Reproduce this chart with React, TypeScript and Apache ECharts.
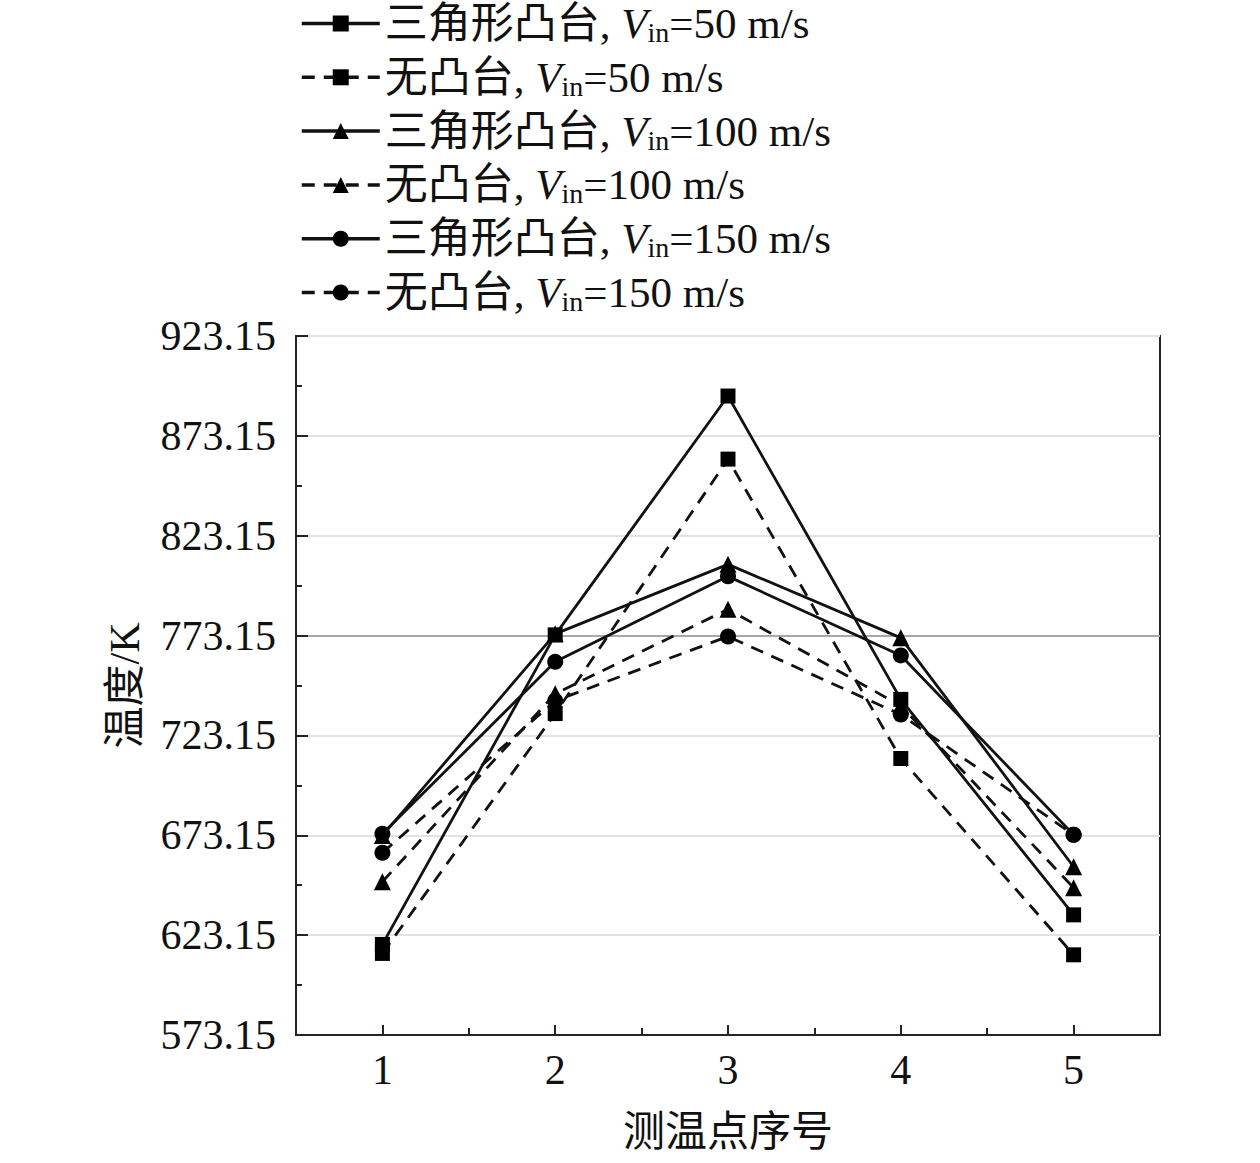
import React, { useEffect, useRef } from "react";
import * as echarts from "echarts";

const xCategories = ["1", "2", "3", "4", "5"];
const yTicks = [573.15, 623.15, 673.15, 723.15, 773.15, 823.15, 873.15, 923.15];

const seriesNames = [
  "三角形凸台, V_in=50 m/s",
  "无凸台, V_in=50 m/s",
  "三角形凸台, V_in=100 m/s",
  "无凸台, V_in=100 m/s",
  "三角形凸台, V_in=150 m/s",
  "无凸台, V_in=150 m/s",
];

const tri50 = [618.5, 773.5, 893.1, 741.2, 633.3];
const no50 = [614.0, 734.1, 861.5, 711.6, 613.3];
const tri100 = [673.0, 774.0, 808.8, 772.0, 657.4];
const no100 = [649.9, 744.0, 786.3, 738.0, 646.9];
const tri150 = [673.9, 760.0, 802.8, 763.2, 673.4];
const no150 = [664.4, 740.5, 772.7, 733.6, 673.4];

const seriesData = [tri50, no50, tri100, no100, tri150, no150];
const symbols = ["rect", "rect", "triangle", "triangle", "circle", "circle"];
const symbolSizes = [15, 15, 17, 17, 16, 16];
const dashed = [false, true, false, true, false, true];

const SERIF = "'Times New Roman', 'Liberation Serif', 'DejaVu Serif', 'Noto Sans CJK SC', serif";
const INK = "#111111";
const FRAME = "#2a2222";

export default function App() {
  const ref = useRef<HTMLDivElement>(null);

  useEffect(() => {
    if (!ref.current) return;
    const chart = echarts.init(ref.current, undefined, { renderer: "svg" });

    const splitColors = yTicks.map((v) => (Math.abs(v - 773.15) < 0.01 ? "#a8a8a8" : "#e2e2e2"));

    const option: any = {
      animation: false,
      backgroundColor: "#ffffff",
      textStyle: { fontFamily: SERIF, color: INK },
      legend: {
        orient: "vertical",
        left: 295,
        top: -3,
        itemWidth: 78,
        itemHeight: 20,
        itemGap: 9.3,
        data: seriesNames,
        lineStyle: { width: 3.5 },
        formatter: (name: string) => {
          const parts = name.split("V_in");
          return `{a|${parts[0]}}{v|V}{s|in}{a|${parts[1]}}`;
        },
        textStyle: {
          fontFamily: SERIF,
          color: INK,
          fontSize: 43,
          rich: {
            a: { fontFamily: SERIF, fontSize: 43, color: INK, lineHeight: 46 },
            v: { fontFamily: SERIF, fontSize: 43, fontStyle: "italic", color: INK, lineHeight: 46 },
            s: { fontFamily: SERIF, fontSize: 28, color: INK, lineHeight: 28, verticalAlign: "bottom" },
          },
        },
      },
      grid: {
        left: 296,
        right: 100,
        top: 336,
        bottom: 128,
        show: true,
        borderColor: FRAME,
        borderWidth: 2,
        backgroundColor: "transparent",
      },
      xAxis: [
        {
          type: "category",
          data: xCategories,
          boundaryGap: true,
          name: "测温点序号",
          nameLocation: "middle",
          nameGap: 76,
          nameTextStyle: { fontFamily: SERIF, fontSize: 42, color: INK },
          axisLine: { show: true, lineStyle: { color: FRAME, width: 2 } },
          axisTick: { show: true, inside: true, alignWithLabel: true, length: 10, lineStyle: { color: FRAME, width: 2 } },
          axisLabel: { fontFamily: SERIF, fontSize: 42, color: INK, margin: 14 },
          splitLine: { show: false },
        },
        {
          type: "category",
          data: xCategories,
          boundaryGap: true,
          position: "bottom",
          axisLine: { show: false },
          axisTick: { show: true, inside: true, alignWithLabel: false, length: 7, lineStyle: { color: FRAME, width: 2 } },
          axisLabel: { show: false },
          splitLine: { show: false },
        },
      ],
      yAxis: {
        type: "value",
        min: yTicks[0],
        max: yTicks[yTicks.length - 1],
        interval: 50,
        name: "温度/K",
        nameLocation: "middle",
        nameGap: 150,
        nameTextStyle: { fontFamily: SERIF, fontSize: 42, color: INK },
        axisLine: { show: true, lineStyle: { color: FRAME, width: 2 } },
        axisTick: { show: true, inside: true, length: 12, lineStyle: { color: FRAME, width: 2 } },
        minorTick: { show: true, splitNumber: 2, length: 6, lineStyle: { color: FRAME, width: 2 } },
        axisLabel: {
          fontFamily: SERIF,
          fontSize: 42,
          color: INK,
          margin: 20,
          formatter: (v: number) => v.toFixed(2),
        },
        splitLine: { show: true, lineStyle: { color: splitColors, width: 2 } },
      },
      series: seriesNames.map((name, i) => ({
        name,
        type: "line",
        xAxisIndex: 0,
        data: seriesData[i],
        symbol: symbols[i],
        symbolSize: symbolSizes[i],
        showAllSymbol: true,
        itemStyle: { color: "#000000" },
        lineStyle: { color: "#111111", width: 2.8, type: dashed[i] ? [13, 9] : "solid" },
        z: 10 - i,
      })),
    };

    chart.setOption(option);
    return () => chart.dispose();
  }, []);

  return (
    <div
      ref={ref}
      style={{ position: "absolute", left: 0, top: 0, width: 1260, height: 1163, background: "#fff" }}
    />
  );
}
